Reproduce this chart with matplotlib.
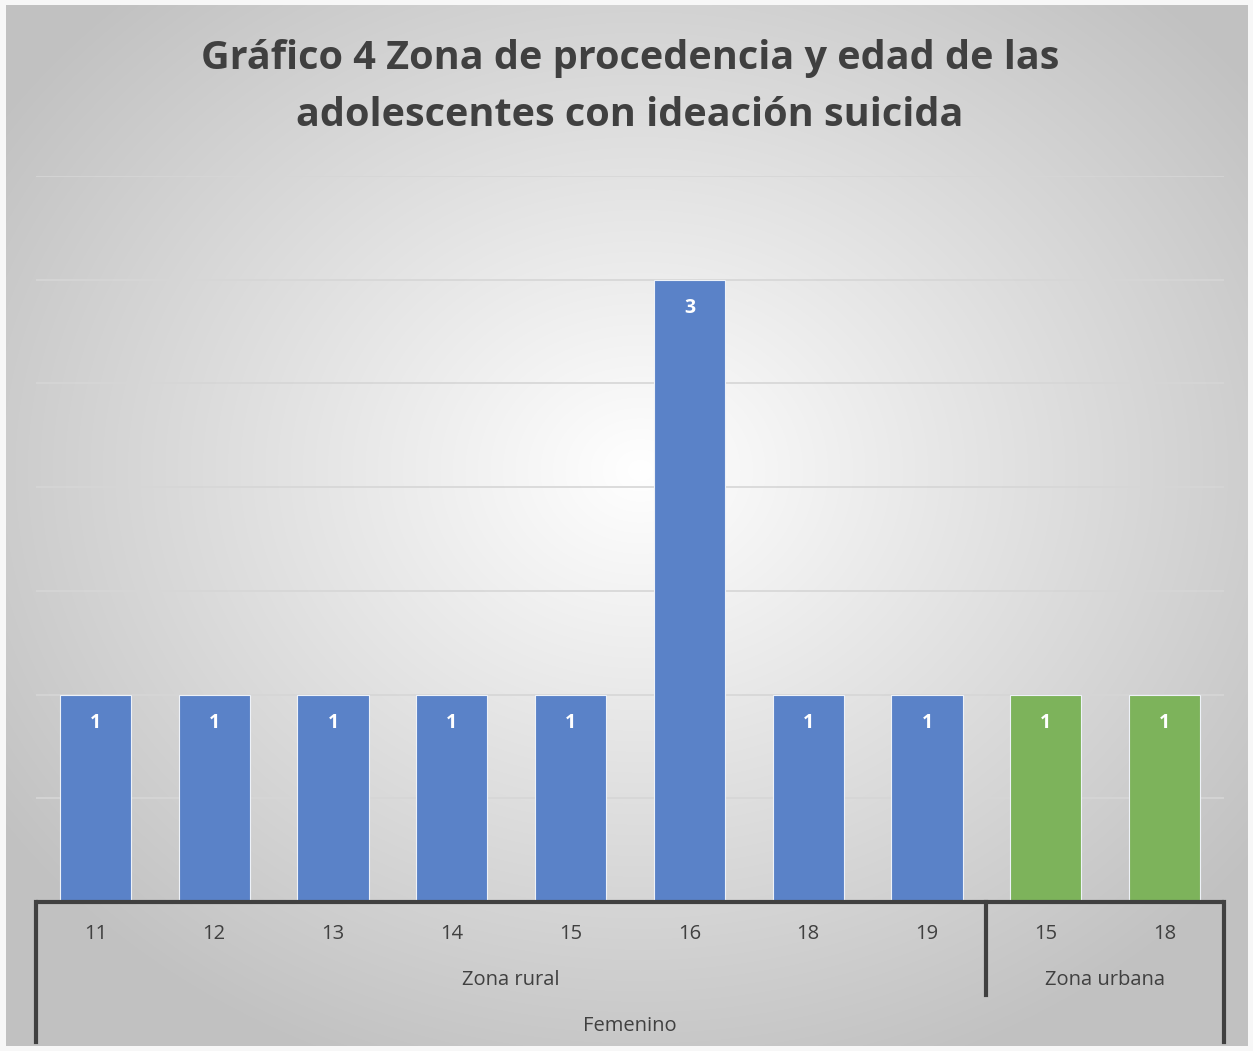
import numpy as np
import matplotlib
matplotlib.use("Agg")
import matplotlib.pyplot as plt

ages = ["11", "12", "13", "14", "15", "16", "18", "19", "15", "18"]
values = [1, 1, 1, 1, 1, 3, 1, 1, 1, 1]
zones = ["Zona rural"] * 8 + ["Zona urbana"] * 2
sex_label = "Femenino"
title = "Gráfico 4 Zona de procedencia y edad de las\nadolescentes con ideación suicida"
colors = {"Zona rural": "#5A82C8", "Zona urbana": "#7DB35B"}

W, H = 1253, 1051
fig = plt.figure(figsize=(W / 100, H / 100), dpi=100)
plt.rcParams['font.family'] = ['Open Sans', 'DejaVu Sans']

# background radial gradient
bg = fig.add_axes([0, 0, 1, 1], zorder=-10)
yy, xx = np.mgrid[0:H, 0:W]
cx, cy = 640, 470
r = np.sqrt(((xx - cx) / 900.0) ** 2 + ((yy - cy) / 750.0) ** 2)
r = np.clip(r / 0.85, 0, 1)
val = 1.0 - (1.0 - 0.76) * r
img = np.dstack([val, val, val])
# outer frame
img[:5, :, :] = 0.97
img[:, :6, :] = 0.97
img[-5:, :, :] = 0.97
img[:, -5:, :] = 0.97
bg.imshow(img, aspect='auto', extent=[0, 1, 0, 1], origin='upper')
bg.axis('off')

left, right = 36 / W, 1224 / W
bottom, top = 1 - 902 / H, 1 - 176 / H
ax = fig.add_axes([left, bottom, right - left, top - bottom])
ax.patch.set_alpha(0)
x = np.arange(len(values))
bar_colors = [colors[z] for z in zones]
ax.bar(x, values, width=0.6, color=bar_colors, edgecolor="#EEF2F8", linewidth=0.8, zorder=3)
ax.set_xlim(-0.5, len(values) - 0.5)
ax.set_ylim(0, 3.5)
ax.set_yticks(np.arange(0.5, 3.51, 0.5))
ax.yaxis.grid(True, color="#D6D6D6", linewidth=1.2, zorder=0)
ax.tick_params(axis='y', left=False, labelleft=False)
ax.set_xticks([])
for s in ['top', 'right', 'left', 'bottom']:
    ax.spines[s].set_visible(False)

for xi, v in zip(x, values):
    ax.annotate(str(v), (xi, v), xytext=(0, -28), textcoords='offset pixels',
                ha='center', va='center', color='white', fontsize=14, fontweight='bold', zorder=5)

# multi-level category axis
lc = "#404040"
tr = ax.get_xaxis_transform()
def fy(py):
    return (1 - py / H - bottom) / (top - bottom)

ax.plot([-0.5, len(values) - 0.5], [0, 0], color=lc, lw=3, transform=tr, clip_on=False, solid_capstyle='butt', zorder=6)
ax.plot([-0.5, -0.5], [0, fy(1042)], color=lc, lw=3, transform=tr, clip_on=False, zorder=6)
ax.plot([len(values) - 0.5] * 2, [0, fy(1042)], color=lc, lw=3, transform=tr, clip_on=False, zorder=6)
nr = zones.count("Zona rural")
ax.plot([nr - 0.5] * 2, [0, fy(995)], color=lc, lw=3, transform=tr, clip_on=False, zorder=6)

fs = 14.5
for xi, a in zip(x, ages):
    ax.text(xi, fy(934), a, transform=tr, ha='center', va='center', fontsize=fs, color='#404040')
ax.text((nr - 1) / 2, fy(980), "Zona rural", transform=tr, ha='center', va='center', fontsize=fs, color='#404040')
ax.text((nr + len(values) - 1) / 2, fy(980), "Zona urbana", transform=tr, ha='center', va='center', fontsize=fs, color='#404040')
ax.text((len(values) - 1) / 2, fy(1026), sex_label, transform=tr, ha='center', va='center', fontsize=fs, color='#404040')

fig.text(630 / W, 1 - 87 / H, title, ha='center', va='center', fontsize=28.5, fontweight='bold',
         color='#404040', linespacing=1.6)

fig.savefig("out.png", dpi=100)
